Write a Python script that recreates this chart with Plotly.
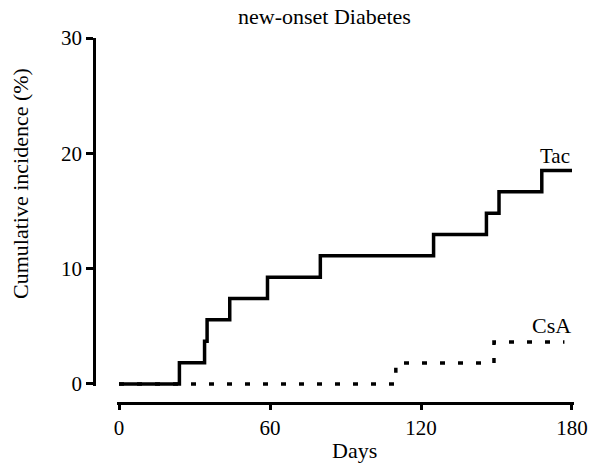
import plotly.graph_objects as go

# Kaplan-Meier style cumulative incidence of new-onset diabetes (%)
tac_days = [0, 24, 34, 35, 44, 59, 80, 125, 146, 151, 168, 180]
tac_incidence = [0, 1.85, 3.7, 5.56, 7.41, 9.26, 11.11, 12.96, 14.81, 16.67, 18.52, 18.52]

csa_days = [0, 110, 149, 177]
csa_incidence = [0, 1.82, 3.64, 3.64]

x_ticks = [0, 60, 120, 180]
y_ticks = [0, 10, 20, 30]

FONT = "Liberation Serif, Times New Roman, serif"
W, H = 593, 466
ML, MR, MT, MB = 94, 19, 38, 63
PW, PH = W - ML - MR, H - MT - MB


def px_x(px):
    return (px - ML) / PW


def px_y(py):
    return 1 - (py - MT) / PH


fig = go.Figure()
fig.add_trace(go.Scatter(
    x=tac_days, y=tac_incidence, mode="lines", line_shape="hv",
    line=dict(color="black", width=3.5), name="Tac", hoverinfo="skip",
))
fig.add_trace(go.Scatter(
    x=csa_days, y=csa_incidence, mode="lines", line_shape="hv",
    line=dict(color="black", width=3.5, dash="5px,13px"), name="CsA",
    hoverinfo="skip",
))

annotations = [
    dict(text="new-onset Diabetes", x=px_x(324.5), y=px_y(16), size=22),
    dict(text="Days", x=px_x(354), y=px_y(451), size=22),
    dict(text="Cumulative incidence (%)", x=px_x(20), y=px_y(184), size=22,
         angle=-90),
    dict(text="Tac", x=px_x(555), y=px_y(156), size=21),
    dict(text="CsA", x=px_x(551), y=px_y(325), size=22),
]

fig.update_layout(
    width=W, height=H, autosize=False,
    margin=dict(l=ML, r=MR, t=MT, b=MB, pad=0, autoexpand=False),
    paper_bgcolor="white", plot_bgcolor="white",
    showlegend=False,
    font=dict(family=FONT, color="black"),
    xaxis=dict(
        range=[-0.8, 180.8], domain=[px_x(117), 1],
        anchor="free", position=0, automargin=False,
        tickmode="array", tickvals=x_ticks, ticktext=[str(v) for v in x_ticks],
        ticks="outside", ticklen=5, tickwidth=2.5, tickcolor="black",
        showline=True, linecolor="black", linewidth=2.5,
        showgrid=False, zeroline=False,
        tickfont=dict(family=FONT, size=21, color="black"),
    ),
    yaxis=dict(
        range=[-0.2, 30], domain=[px_y(386.3), 1],
        anchor="free", position=0, automargin=False,
        tickmode="array", tickvals=y_ticks, ticktext=[str(v) for v in y_ticks],
        ticks="outside", ticklen=7, tickwidth=2.5, tickcolor="black",
        showline=True, linecolor="black", linewidth=2.5,
        showgrid=False, zeroline=False,
        tickfont=dict(family=FONT, size=21, color="black"),
    ),
)

for a in annotations:
    fig.add_annotation(
        text=a["text"], x=a["x"], y=a["y"], xref="paper", yref="paper",
        xanchor="center", yanchor="middle", showarrow=False,
        textangle=a.get("angle", 0),
        font=dict(family=FONT, size=a["size"], color="black"),
    )

fig.write_html("out.html")
